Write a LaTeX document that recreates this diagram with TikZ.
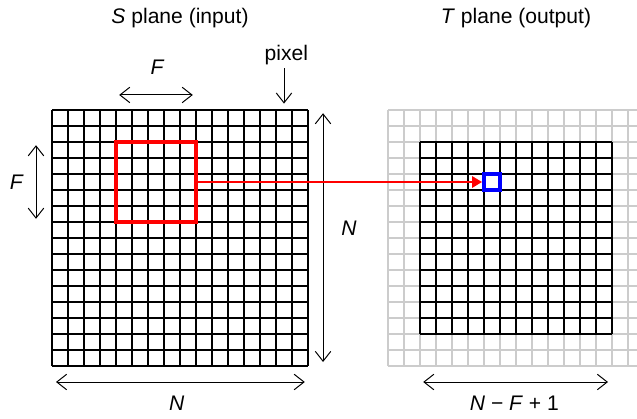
\documentclass[tikz,border=0pt]{standalone}
\usepackage{fontspec}
\setmainfont{Liberation Sans}
\usetikzlibrary{arrows.meta, positioning}

\begin{document}
\begin{tikzpicture}[
    x=0.4cm, y=0.4cm,
    >={Straight Barb[length=7pt, width=11pt]},
    dim/.style={<->, line width=0.7pt},
    pixgrid/.style={line width=1pt, step=0.4cm},
    ghostgrid/.style={line width=1pt, draw=black!20, step=0.4cm},
    window/.style={draw=red, line width=2.8pt, minimum size=2cm, inner sep=0pt},
    outpix/.style={draw=blue, line width=2.8pt, minimum size=0.4cm, inner sep=0pt},
    every node/.style={font=\fontsize{15}{18}\selectfont}
  ]
  \useasboundingbox (-3.25,-3.25) rectangle (36.5625,22.875);

  % ---- S plane ----
  \node (stitle) at (8,21.75) {\textit{S} plane (input)};
  \draw[pixgrid] (0,0) grid (16,16);
  \node[window] (win) at (6.5,11.5) {};

  % F across
  \coordinate (fl) at (4.2,16.94);
  \coordinate (fr) at (8.8,16.94);
  \draw[dim] (fl) -- (fr);
  \node (ftop) at (6.6,18.7) {\textit{F}};

  % F down
  \coordinate (ft) at (-1,13.8);
  \coordinate (fb) at (-1,9.2);
  \draw[dim] (ft) -- (fb);
  \node (fside) at (-2.2,11.5) {\textit{F}};

  % pixel
  \node (pixel) at (14.65,19.45) {pixel};
  \coordinate (pixtop) at (14.5,18.6);
  \coordinate (pixtip) at (14.5,16.4);
  \draw[->, line width=0.7pt] (pixtop) -- (pixtip);

  % N side and N below
  \coordinate (nt) at (16.94,15.8);
  \coordinate (nb) at (16.94,0.25);
  \draw[dim] (nt) -- (nb);
  \node (nside) at (18.56,8.6) {\textit{N}};
  \coordinate (nl) at (0.25,-1);
  \coordinate (nr) at (15.8,-1);
  \draw[dim] (nl) -- (nr);
  \node (nbelow) at (7.8,-2.3) {\textit{N}};

  % ---- T plane ----
  \node (ttitle) at (29,21.75) {\textit{T} plane (output)};
  \draw[ghostgrid] (21,0) grid (37,16);
  \draw[pixgrid] (23,2) grid (35,14);
  \node[outpix] (out) at (27.5,11.5) {};

  % N - F + 1
  \coordinate (ol) at (23.2,-1);
  \coordinate (or) at (34.75,-1);
  \draw[dim] (ol) -- (or);
  \node (obelow) at (28.9,-2.3) {\textit{N} − \textit{F} + 1};

  % Arrow
  \draw[red, line width=1.4pt, -{Triangle[length=7pt, width=8pt]}] (win.east) -- (out.west);
\end{tikzpicture}
\end{document}
